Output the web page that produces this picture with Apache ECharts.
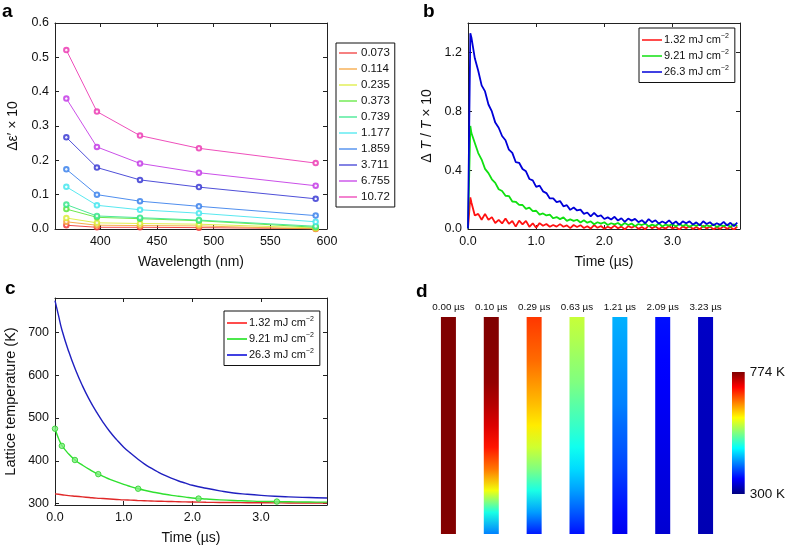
<!DOCTYPE html>
<html>
<head>
<meta charset="utf-8">
<script src="https://cdn.jsdelivr.net/npm/echarts@6/dist/echarts.min.js"></script>
<style>
html,body{margin:0;padding:0;background:#fff;}
#c{width:788px;height:548px;}
</style>
</head>
<body>
<div id="c"></div>
<script>
// ---------- Panel a data ----------
const wavelengths = [370, 397, 435, 487, 590];
const fluenceLabels = ['0.073', '0.114', '0.235', '0.373', '0.739', '1.177', '1.859', '3.711', '6.755', '10.72'];
const eps0073 = [0.011, 0.005, 0.005, 0.004, 0.001];
const eps0114 = [0.021, 0.011, 0.010, 0.009, 0.000];
const eps0235 = [0.032, 0.018, 0.016, 0.014, 0.003];
const eps0373 = [0.058, 0.034, 0.030, 0.024, 0.005];
const eps0739 = [0.071, 0.038, 0.033, 0.026, 0.008];
const eps1177 = [0.123, 0.069, 0.056, 0.046, 0.021];
const eps1859 = [0.174, 0.100, 0.081, 0.066, 0.039];
const eps3711 = [0.267, 0.179, 0.143, 0.122, 0.088];
const eps6755 = [0.380, 0.239, 0.191, 0.164, 0.126];
const eps1072 = [0.521, 0.342, 0.272, 0.235, 0.192];

// ---------- Panel b data ----------
const fluenceNames = ['1.32 mJ cm-2', '9.21 mJ cm-2', '26.3 mJ cm-2'];
const timeB = [0, 0.025, 0.034,
  0.05, 0.10, 0.15, 0.20, 0.25, 0.30, 0.35, 0.40, 0.45, 0.50, 0.55, 0.60, 0.65, 0.70, 0.75, 0.80, 0.85, 0.90, 0.95, 1.00,
  1.05, 1.10, 1.15, 1.20, 1.25, 1.30, 1.35, 1.40, 1.45, 1.50, 1.55, 1.60, 1.65, 1.70, 1.75, 1.80, 1.85, 1.90, 1.95, 2.00,
  2.05, 2.10, 2.15, 2.20, 2.25, 2.30, 2.35, 2.40, 2.45, 2.50, 2.55, 2.60, 2.65, 2.70, 2.75, 2.80, 2.85, 2.90, 2.95, 3.00,
  3.05, 3.10, 3.15, 3.20, 3.25, 3.30, 3.35, 3.40, 3.45, 3.50, 3.55, 3.60, 3.65, 3.70, 3.75, 3.80, 3.85, 3.90, 3.95];
const dtt132 = [0.005, 0.0, 0.215,
  0.18, 0.092, 0.103, 0.063, 0.103, 0.062, 0.081, 0.041, 0.062, 0.038, 0.072, 0.035, 0.054, 0.016, 0.057, 0.031, 0.055, 0.015, 0.039, 0.008,
  0.04, 0.022, 0.034, 0.015, 0.027, 0.016, 0.033, 0.015, 0.025, 0.006, 0.027, 0.014, 0.026, 0.007, 0.019, 0.003, 0.027, 0.008, 0.02, 0.002,
  0.015, 0.005, 0.023, 0.005, 0.016, -0.002, 0.02, 0.008, 0.021, 0.001, 0.014, -0.001, 0.023, 0.005, 0.018, 0.0, 0.013, 0.003, 0.02, 0.003,
  0.014, -0.004, 0.018, 0.006, 0.019, 0.0, 0.013, -0.002, 0.022, 0.003, 0.016, -0.002, 0.011, 0.001, 0.019, 0.002, 0.013, -0.005, 0.017];
const dtt921 = [0.003, 0.0, 0.70,
  0.652, 0.585, 0.516, 0.472, 0.409, 0.38, 0.338, 0.314, 0.27, 0.258, 0.226, 0.224, 0.187, 0.185, 0.164, 0.163, 0.137, 0.145, 0.122, 0.124,
  0.098, 0.106, 0.092, 0.097, 0.073, 0.081, 0.067, 0.079, 0.055, 0.065, 0.055, 0.063, 0.044, 0.059, 0.043, 0.052, 0.032, 0.046, 0.037, 0.046,
  0.027, 0.039, 0.031, 0.041, 0.024, 0.041, 0.027, 0.037, 0.019, 0.034, 0.027, 0.037, 0.018, 0.03, 0.021, 0.038, 0.017, 0.03, 0.023, 0.033,
  0.017, 0.035, 0.02, 0.031, 0.013, 0.029, 0.021, 0.032, 0.013, 0.026, 0.017, 0.033, 0.013, 0.026, 0.019, 0.03, 0.014, 0.032, 0.018];
const dtt263 = [0.004, 0.0, 1.33,
  1.302, 1.16, 1.076, 0.976, 0.935, 0.846, 0.799, 0.723, 0.688, 0.632, 0.603, 0.539, 0.517, 0.455, 0.45, 0.408, 0.392, 0.34, 0.331, 0.286,
  0.295, 0.256, 0.244, 0.208, 0.208, 0.182, 0.19, 0.154, 0.162, 0.13, 0.146, 0.126, 0.132, 0.103, 0.112, 0.086, 0.109, 0.085, 0.093, 0.068,
  0.079, 0.065, 0.083, 0.057, 0.073, 0.048, 0.071, 0.057, 0.069, 0.046, 0.06, 0.039, 0.067, 0.047, 0.059, 0.037, 0.051, 0.039, 0.059, 0.034,
  0.051, 0.028, 0.052, 0.039, 0.052, 0.03, 0.045, 0.025, 0.053, 0.034, 0.046, 0.025, 0.039, 0.028, 0.048, 0.024, 0.042, 0.019, 0.044];

// ---------- Panel c data ----------
const timeC = [0, 0.05, 0.1, 0.2, 0.3, 0.4, 0.5, 0.6, 0.7, 0.8, 0.9, 1.0, 1.1, 1.2, 1.3, 1.4, 1.5, 1.6, 1.7, 1.8, 1.9, 2.0,
  2.2, 2.4, 2.6, 2.8, 3.0, 3.2, 3.4, 3.6, 3.8, 3.96];
const tempC132 = [323, 322, 321, 319, 317.5, 316, 314.5, 313, 312, 311, 310, 309, 308.3, 307.6, 307, 306.4, 305.9, 305.4, 305, 304.6, 304.2, 303.9,
  303.4, 303, 302.7, 302.4, 302.2, 302, 301.8, 301.7, 301.6, 301.5];
const tempC921 = [475, 453, 436, 416, 401, 390, 380, 371, 364, 357, 351, 345, 340, 335.5, 331.5, 328, 325, 322, 319.5, 317.5, 315.5, 313.5,
  311, 309, 307.5, 306.5, 305.5, 305, 304.5, 304, 303.8, 303.6];
const tempC263 = [774, 740, 706, 655, 612, 575, 543, 515, 490, 468, 449, 432, 418, 405, 393, 383, 374, 366, 359, 353, 348, 343,
  336, 330, 325, 322, 319.5, 317.5, 316, 314.8, 314, 313.5];
const markerTimes = [0.00, 0.10, 0.29, 0.63, 1.21, 2.09, 3.23];
const markerTemps = [475, 435, 402, 369, 335, 312, 305];

// ---------- Panel d data ----------
const timeLabelsD = ['0.00 \u00b5s', '0.10 \u00b5s', '0.29 \u00b5s', '0.63 \u00b5s', '1.21 \u00b5s', '2.09 \u00b5s', '3.23 \u00b5s'];
const barExtent = [1, 1, 1, 1, 1, 1, 1];
const profileDepth = [0, 0.1, 0.2, 0.3, 0.4, 0.5, 0.6, 0.7, 0.8, 0.9, 1.0];
const prof000 = [774, 774, 774, 774, 774, 774, 774, 774, 774, 774, 772];
const prof010 = [774, 772, 769, 765, 750, 731, 705, 660, 590, 490, 419];
const prof029 = [689, 677, 665, 646, 627, 605, 574, 537, 490, 432, 371];
const prof063 = [570, 560, 548, 537, 520, 504, 485, 461, 433, 400, 366];
const prof121 = [442, 436, 431, 425, 419, 409, 400, 390, 377, 365, 352];
const prof209 = [366, 363, 360, 358, 355, 352, 349, 346, 343, 341, 338];
const prof323 = [333, 332, 331, 330, 329, 328, 328, 327, 326, 325, 324];
const colorRange = [300, 774];

// ---------- helpers ----------
const FONT = 'Liberation Sans, Arial, Helvetica, sans-serif';
const AX = '#222';
const TXT = '#111';

function jet(v) {
  v = Math.max(0, Math.min(1, v));
  const c = x => Math.round(255 * Math.max(0, Math.min(1, x)));
  const r = c(1.5 - Math.abs(4 * v - 3));
  const g = c(1.5 - Math.abs(4 * v - 2));
  const b = c(1.5 - Math.abs(4 * v - 1));
  return 'rgb(' + r + ',' + g + ',' + b + ')';
}
const norm = T => (T - colorRange[0]) / (colorRange[1] - colorRange[0]);

function axis(type, gridIndex, position, o) {
  const showLabel = !!o.label;
  const a = {
    type: type, gridIndex: gridIndex, position: position,
    axisLine: {show: true, onZero: false, lineStyle: {color: AX, width: 1}},
    axisTick: {show: true, inside: true, length: 4, lineStyle: {color: AX, width: 1}},
    splitLine: {show: false},
    axisLabel: {show: showLabel, color: TXT, fontSize: 12.5, fontFamily: FONT, margin: 6,
      formatter: o.fmt, showMinLabel: o.showMin, showMaxLabel: o.showMax},
    min: o.min, max: o.max
  };
  if (o.interval != null) a.interval = o.interval;
  if (o.name) {
    a.name = o.name; a.nameLocation = 'middle'; a.nameGap = o.nameGap;
    a.nameTextStyle = Object.assign({fontSize: 14, fontFamily: FONT, color: TXT}, o.nameStyle || {});
  }
  return a;
}
const f1 = v => v.toFixed(1);

const xAxes = [
  axis('value', 0, 'bottom', {min: 360, max: 600, label: true, showMin: false, showMax: true, name: 'Wavelength (nm)', nameGap: 26}),
  axis('value', 0, 'top', {min: 360, max: 600}),
  axis('value', 1, 'bottom', {min: 0, max: 3.99, interval: 1, label: true, fmt: f1, showMax: false, name: 'Time (\u00b5s)', nameGap: 26}),
  axis('value', 1, 'top', {min: 0, max: 3.99, interval: 1}),
  axis('value', 2, 'bottom', {min: 0, max: 3.96, interval: 1, label: true, fmt: f1, showMax: false, name: 'Time (\u00b5s)', nameGap: 26}),
  axis('value', 2, 'top', {min: 0, max: 3.96, interval: 1}),
  {type: 'category', gridIndex: 3, position: 'top', data: timeLabelsD, boundaryGap: true,
   axisLine: {show: false}, axisTick: {show: false}, splitLine: {show: false},
   axisLabel: {interval: 0, fontSize: 9.8, fontFamily: FONT, color: TXT, margin: 5}},
  {type: 'category', gridIndex: 4, data: ['cb'], show: false}
];
const yAxes = [
  axis('value', 0, 'left', {min: 0, max: 0.6, interval: 0.1, label: true, fmt: f1, name: '\u0394\u03b5\u2032 \u00d7 10', nameGap: 35}),
  axis('value', 0, 'right', {min: 0, max: 0.6, interval: 0.1}),
  axis('value', 1, 'left', {min: 0, max: 1.4, interval: 0.4, label: true, fmt: f1, showMax: false,
    name: '{n|\u0394 }{i|T}{n| / }{i|T}{n| \u00d7 10}', nameGap: 34,
    nameStyle: {rich: {n: {fontSize: 14, fontFamily: FONT, color: TXT}, i: {fontSize: 14, fontFamily: FONT, color: TXT, fontStyle: 'italic'}}}}),
  axis('value', 1, 'right', {min: 0, max: 1.4, interval: 0.4}),
  axis('value', 2, 'left', {min: 297, max: 780, label: true, showMin: false, showMax: false, name: 'Lattice temperature (K)', nameGap: 37,
    nameStyle: {fontSize: 14.5}}),
  axis('value', 2, 'right', {min: 297, max: 780}),
  {type: 'value', gridIndex: 3, min: 0, max: 1, show: false},
  {type: 'value', gridIndex: 4, min: colorRange[0], max: colorRange[1], position: 'right',
   axisLine: {show: false}, axisTick: {show: false}, splitLine: {show: false},
   axisLabel: {show: true, fontSize: 13.5, fontFamily: FONT, color: TXT, margin: 5, showMinLabel: true, showMaxLabel: true,
     formatter: v => (v === colorRange[0] || v === colorRange[1]) ? v + ' K' : ''}}
];

// ---------- series ----------
const epsSets = [eps0073, eps0114, eps0235, eps0373, eps0739, eps1177, eps1859, eps3711, eps6755, eps1072];
const colA = ['#f03a3a', '#f5a33c', '#dcec3c', '#5ce63a', '#3ae68c', '#46e6ee', '#3c82ec', '#3c3cd4', '#c43ce6', '#ec3cb4'];
const zip = (xs, ys) => xs.map((x, i) => [x, ys[i]]);
const series = [];
epsSets.forEach((ys, k) => {
  series.push({type: 'line', name: fluenceLabels[k], xAxisIndex: 0, yAxisIndex: 0, data: zip(wavelengths, ys),
    symbol: 'emptyCircle', symbolSize: 4.5, color: colA[k],
    lineStyle: {width: 1, color: colA[k], opacity: 0.9}, itemStyle: {color: colA[k], borderWidth: 0.9, opacity: 0.85}, z: 3 + k});
});
const colB = ['#ff1010', '#10e010', '#0000d8'];
[dtt132, dtt921, dtt263].forEach((ys, k) => {
  series.push({type: 'line', name: fluenceNames[k], xAxisIndex: 2, yAxisIndex: 2, data: zip(timeB, ys),
    showSymbol: false, color: colB[k], lineStyle: {width: 1.8, color: colB[k]}, z: 3 + k});
});
const colC = ['#e02828', '#30e030', '#2020c0'];
[tempC132, tempC921, tempC263].forEach((ys, k) => {
  series.push({type: 'line', name: fluenceNames[k], xAxisIndex: 4, yAxisIndex: 4, data: zip(timeC, ys),
    showSymbol: false, smooth: true, color: colC[k], lineStyle: {width: 1.4, color: colC[k]}, z: 3 + k});
});
series.push({type: 'scatter', name: 'markers', xAxisIndex: 4, yAxisIndex: 4, data: zip(markerTimes, markerTemps),
  symbol: 'circle', symbolSize: 5.5, itemStyle: {color: '#80f080', borderColor: '#28d028', borderWidth: 1}, z: 10});

const profiles = [prof000, prof010, prof029, prof063, prof121, prof209, prof323];
series.push({type: 'bar', name: 'profiles', xAxisIndex: 6, yAxisIndex: 6, barWidth: 15,
  data: barExtent.map((v, i) => ({value: v, itemStyle: {color: new echarts.graphic.LinearGradient(0, 0, 0, 1,
    profileDepth.map((d, j) => ({offset: d, color: jet(norm(profiles[i][j]))})))}}))});
const cbStops = [1, 0.875, 0.625, 0.375, 0.125, 0].map(v => ({offset: 1 - v, color: jet(v)}));
series.push({type: 'bar', name: 'colorbar', xAxisIndex: 7, yAxisIndex: 7, barWidth: '100%',
  data: [{value: colorRange[1], itemStyle: {color: new echarts.graphic.LinearGradient(0, 0, 0, 1, cbStops)}}]});

function legendBox(left, top, names, fmt, opts) {
  return Object.assign({
    left: left, top: top, orient: 'vertical', data: names, icon: 'rect', itemWidth: 20, itemHeight: 1.5,
    itemGap: 3.5, padding: [5, 6, 5, 3], borderColor: '#111', borderWidth: 1, backgroundColor: '#fff',
    selectedMode: false, formatter: fmt,
    textStyle: {fontSize: 11, fontFamily: FONT, color: TXT, padding: [0, 0, 0, -3],
      rich: {n: {fontSize: 11, fontFamily: FONT, color: TXT, lineHeight: 14},
             s: {fontSize: 7, fontFamily: FONT, color: TXT, lineHeight: 8, verticalAlign: 'top'}}}
  }, opts || {});
}
const supFmt = name => '{n|' + name.replace(' cm-2', ' cm') + '}{s|\u22122}';

const option = {
  animation: false,
  backgroundColor: '#fff',
  title: [
    {text: 'a', left: 2, top: 2, padding: 0, textStyle: {fontSize: 19, fontWeight: 'bold', color: '#000', fontFamily: FONT}},
    {text: 'b', left: 423, top: 2, padding: 0, textStyle: {fontSize: 19, fontWeight: 'bold', color: '#000', fontFamily: FONT}},
    {text: 'c', left: 5, top: 279, padding: 0, textStyle: {fontSize: 19, fontWeight: 'bold', color: '#000', fontFamily: FONT}},
    {text: 'd', left: 416, top: 282, padding: 0, textStyle: {fontSize: 19, fontWeight: 'bold', color: '#000', fontFamily: FONT}}
  ],
  grid: [
    {left: 55, top: 23, width: 272, height: 206},
    {left: 468, top: 23, width: 272, height: 206},
    {left: 55, top: 298, width: 272, height: 207},
    {left: 427, top: 317, width: 300, height: 217},
    {left: 732, top: 372, width: 13, height: 122}
  ],
  xAxis: xAxes,
  yAxis: yAxes,
  legend: [
    legendBox(336, 43, fluenceLabels, null, {itemWidth: 18, itemGap: 2, padding: [3, 5, 3, 3],
      textStyle: {fontSize: 11.5, fontFamily: FONT, color: TXT, lineHeight: 14, padding: [0, 0, 0, -1]}}),
    legendBox(639, 28, fluenceNames.slice(), supFmt),
    legendBox(224, 311, fluenceNames.slice(), supFmt)
  ],
  series: series
};

const chart = echarts.init(document.getElementById('c'), null, {renderer: 'canvas'});
chart.setOption(option);
</script>
</body>
</html>
